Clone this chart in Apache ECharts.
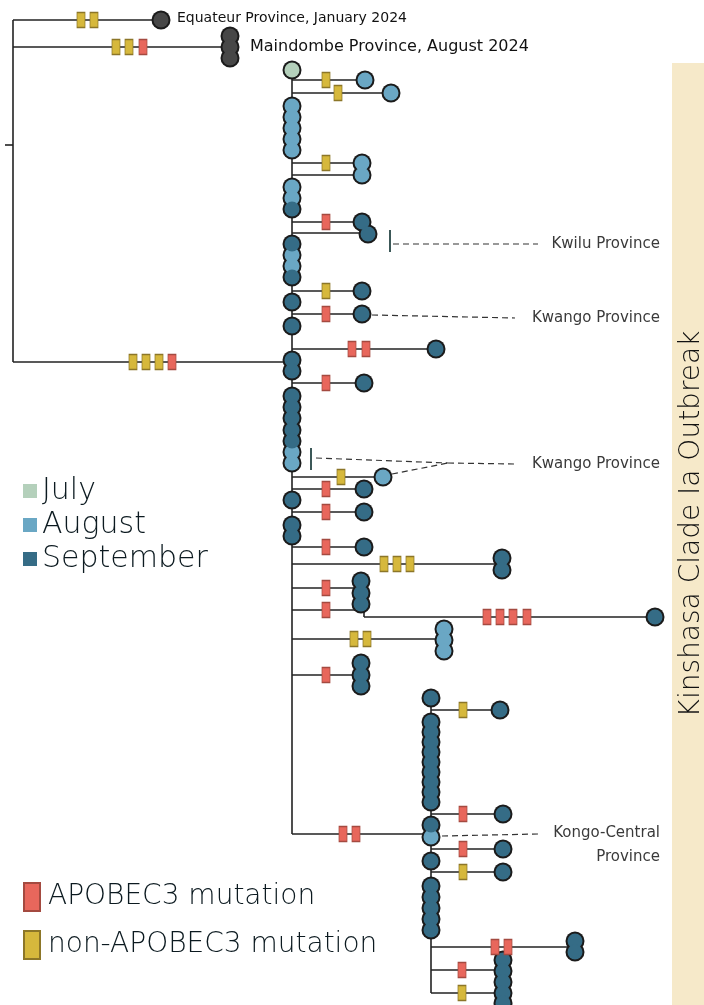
<!DOCTYPE html>
<html>
<head>
<meta charset="utf-8">
<script src="https://cdn.jsdelivr.net/npm/echarts@6/dist/echarts.min.js"></script>
<style>
  html, body { margin: 0; padding: 0; background: #fff; }
  #main { width: 704px; height: 1005px; }
</style>
</head>
<body>
<div id="main"></div>
<script>
// tree drawn in a plain x/y layout space (0..704, 0..1005)
var months = ['July', 'August', 'September'];
var monthColors = ['#b4d0bb', '#6aa7c4', '#356c86'];

// vertical lines: [x, yTop, yBottom]
var spines = [
    [13, 20, 362],
    [292, 70, 834],
    [364, 604, 617],
    [431, 698, 993]
];

// horizontal lines: [y, xStart, xEnd]
var branches = [
    [145, 5, 13], [20, 13, 161], [47, 13, 230], [362, 13, 292],
    [80, 292, 365], [93, 292, 391], [163, 292, 362], [175, 292, 362],
    [222, 292, 362], [233, 292, 368], [291, 292, 362], [314, 292, 362],
    [349, 292, 436], [383, 292, 364], [477, 292, 383], [489, 292, 364],
    [512, 292, 364], [547, 292, 364], [564, 292, 502], [588, 292, 361],
    [610, 292, 361], [617, 364, 655], [639, 292, 444], [675, 292, 361],
    [834, 292, 431],
    [710, 431, 500], [814, 431, 503], [849, 431, 503], [872, 431, 503],
    [947, 431, 575], [970, 431, 503], [993, 431, 503]
];

// outgroup samples (grey)
var outgroup = [[161, 20], [230, 36], [230, 47], [230, 58]];

// outbreak samples: [x, y, monthIndex]
var samples = [
    [292, 70, 0],
    [365, 80, 1], [391, 93, 1],
    [292, 106, 1], [292, 117, 1], [292, 128, 1], [292, 139, 1], [292, 150, 1],
    [362, 163, 1], [362, 175, 1],
    [292, 187, 1], [292, 198, 1], [292, 209, 2],
    [362, 222, 2], [368, 234, 2],
    [292, 244, 2], [292, 255, 1], [292, 266, 1], [292, 277, 2],
    [362, 291, 2], [292, 302, 2], [362, 314, 2], [292, 326, 2],
    [436, 349, 2], [292, 360, 2], [292, 371, 2], [364, 383, 2],
    [292, 396, 2], [292, 407, 2], [292, 418, 2], [292, 430, 2], [292, 441, 2],
    [292, 452, 1], [292, 463, 1],
    [383, 477, 1], [364, 489, 2], [292, 500, 2], [364, 512, 2],
    [292, 525, 2], [292, 536, 2], [364, 547, 2],
    [502, 558, 2], [502, 570, 2],
    [361, 581, 2], [361, 593, 2], [361, 604, 2],
    [655, 617, 2],
    [444, 629, 1], [444, 640, 1], [444, 651, 1],
    [361, 663, 2], [361, 675, 2], [361, 686, 2],
    [431, 698, 2], [500, 710, 2],
    [431, 722, 2], [431, 732, 2], [431, 742, 2], [431, 752, 2], [431, 762, 2],
    [431, 772, 2], [431, 782, 2], [431, 792, 2], [431, 802, 2],
    [503, 814, 2], [431, 825, 2], [431, 837, 1], [503, 849, 2],
    [431, 861, 2], [503, 872, 2],
    [431, 886, 2], [431, 897, 2], [431, 908, 2], [431, 919, 2], [431, 930, 2],
    [575, 941, 2], [575, 952, 2],
    [503, 960, 2], [503, 971, 2], [503, 982, 2], [503, 993, 2], [503, 1003, 2]
];

// mutations on branches: [x, y]
var apobec = [
    [143, 47], [172, 362], [326, 222], [326, 314], [352, 349], [366, 349],
    [326, 383], [326, 489], [326, 512], [326, 547], [326, 588], [326, 610],
    [487, 617], [500, 617], [513, 617], [527, 617], [326, 675],
    [343, 834], [356, 834], [463, 814], [463, 849], [495, 947], [508, 947], [462, 970]
];
var nonApobec = [
    [81, 20], [94, 20], [116, 47], [129, 47], [133, 362], [146, 362], [159, 362],
    [326, 80], [338, 93], [326, 163], [326, 291], [341, 477],
    [384, 564], [397, 564], [410, 564], [354, 639], [367, 639],
    [463, 710], [463, 872], [462, 993]
];

// dashed leader lines to province labels: [x1, y1, x2, y2]
var leaders = [
    [393, 244, 538, 244],
    [372, 315, 515, 318],
    [316, 458, 448, 463],
    [392, 474, 448, 463],
    [448, 463, 515, 464],
    [442, 836, 538, 834]
];
// small tick marks: [x, yTop, yBottom]
var ticks = [[390, 230, 252], [311, 448, 470]];

var font = '"DejaVu Sans", "Liberation Sans", sans-serif';

var segments = [];
spines.forEach(function (s) { segments.push([s[0], s[1], s[0], s[2]]); });
branches.forEach(function (b) { segments.push([b[1], b[0], b[2], b[0]]); });

function segmentRenderer(style) {
    return function (params, api) {
        var a = api.coord([api.value(0), api.value(1)]);
        var b = api.coord([api.value(2), api.value(3)]);
        return {
            type: 'line',
            shape: { x1: a[0], y1: a[1], x2: b[0], y2: b[1] },
            style: style
        };
    };
}

var allPoints = outgroup.concat(samples.map(function (s) { return [s[0], s[1]]; }));

var series = [
    {
        name: 'edges', type: 'custom', z: 1, silent: true,
        renderItem: segmentRenderer({ stroke: '#222', lineWidth: 1.6, fill: null }),
        data: segments
    },
    {
        name: 'leaders', type: 'custom', z: 1, silent: true,
        renderItem: segmentRenderer({ stroke: '#333', lineWidth: 1.2, lineDash: [6, 4], fill: null }),
        data: leaders
    },
    {
        name: 'ticks', type: 'custom', z: 1, silent: true,
        renderItem: segmentRenderer({ stroke: '#3c5858', lineWidth: 2, fill: null }),
        data: ticks.map(function (t) { return [t[0], t[1], t[0], t[2]]; })
    },
    {
        name: 'outline', type: 'scatter', z: 2, silent: true,
        symbolSize: 19,
        itemStyle: { color: '#1b1b1b', opacity: 1 },
        data: allPoints
    },
    {
        name: 'outgroup', type: 'scatter', z: 3, silent: true,
        symbolSize: 15,
        itemStyle: { color: '#474747', opacity: 1 },
        data: outgroup
    }
];

months.forEach(function (m, i) {
    series.push({
        name: m, type: 'scatter', z: 3, silent: true,
        symbolSize: 15,
        itemStyle: { color: monthColors[i], opacity: 1 },
        data: samples.filter(function (s) { return s[2] === i; })
            .map(function (s) { return [s[0], s[1]]; })
    });
});

series.push({
    name: 'APOBEC3 mutation', type: 'scatter', z: 4, silent: true,
    symbol: 'rect', symbolSize: [8, 15],
    itemStyle: { color: '#e8675c', borderColor: '#a44a40', borderWidth: 1, opacity: 1 },
    data: apobec
});
series.push({
    name: 'non-APOBEC3 mutation', type: 'scatter', z: 4, silent: true,
    symbol: 'rect', symbolSize: [8, 15],
    itemStyle: { color: '#d6b83c', borderColor: '#8c7628', borderWidth: 1, opacity: 1 },
    data: nonApobec
});

var chart = echarts.init(document.getElementById('main'));

var option = {
    animation: false,
    backgroundColor: '#ffffff',
    grid: { left: 0, right: 0, top: 0, bottom: 0 },
    xAxis: { type: 'value', min: 0, max: 704, show: false },
    yAxis: { type: 'value', min: 0, max: 1005, inverse: true, show: false },
    legend: [
        {
            data: months, orient: 'vertical', left: 18, top: 471,
            icon: 'rect', itemWidth: 14, itemHeight: 14, itemGap: 4,
            selectedMode: false,
            textStyle: { fontSize: 30, color: '#0c1a20', fontFamily: font, fontWeight: 200, padding: [0, 0, 0, 0] }
        },
        {
            data: ['APOBEC3 mutation', 'non-APOBEC3 mutation'], orient: 'vertical', left: 18, top: 877,
            icon: 'rect', itemWidth: 16, itemHeight: 28, itemGap: 18,
            selectedMode: false,
            textStyle: { fontSize: 28, color: '#0c1a20', fontFamily: font, fontWeight: 200, padding: [0, 0, 0, 3] }
        }
    ],
    graphic: [
        { type: 'rect', z: -1, shape: { x: 672, y: 63, width: 32, height: 942 }, style: { fill: '#f6e9c9' } },
        {
            type: 'text', x: 692, y: 524, rotation: Math.PI / 2,
            style: { text: 'Kinshasa Clade Ia Outbreak', font: '200 28px ' + font, fill: '#111', align: 'center', verticalAlign: 'middle' }
        },
        { type: 'text', x: 177, y: 18, style: { text: 'Equateur Province, January 2024', font: '14px ' + font, fill: '#111', verticalAlign: 'middle' } },
        { type: 'text', x: 250, y: 47, style: { text: 'Maindombe Province, August 2024', font: '16px ' + font, fill: '#111', verticalAlign: 'middle' } },
        { type: 'text', x: 660, y: 244, style: { text: 'Kwilu Province', font: '15px ' + font, fill: '#3a3a3a', align: 'right', verticalAlign: 'middle' } },
        { type: 'text', x: 660, y: 318, style: { text: 'Kwango Province', font: '15px ' + font, fill: '#3a3a3a', align: 'right', verticalAlign: 'middle' } },
        { type: 'text', x: 660, y: 464, style: { text: 'Kwango Province', font: '15px ' + font, fill: '#3a3a3a', align: 'right', verticalAlign: 'middle' } },
        { type: 'text', x: 660, y: 833, style: { text: 'Kongo-Central', font: '15px ' + font, fill: '#3a3a3a', align: 'right', verticalAlign: 'middle' } },
        { type: 'text', x: 660, y: 857, style: { text: 'Province', font: '15px ' + font, fill: '#3a3a3a', align: 'right', verticalAlign: 'middle' } }
    ],
    series: series
};

chart.setOption(option);
</script>
</body>
</html>
